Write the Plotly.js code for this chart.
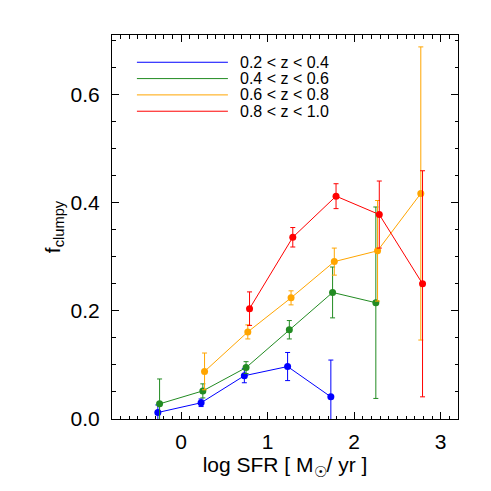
<!DOCTYPE html>
<html>
<head>
<meta charset="utf-8">
<script src="https://cdn.plot.ly/plotly-3.0.1.min.js"></script>
<style>
  html, body { margin: 0; padding: 0; background: #fff; }
  #chart { width: 491px; height: 491px; }
</style>
</head>
<body>
<div id="chart"></div>
<script>
// data: log SFR bins, clumpy fraction and its error
let labels = ["0.2 < z < 0.4", "0.4 < z < 0.6", "0.6 < z < 0.8", "0.8 < z < 1.0"];
let colors = ["#0000ff", "#228b22", "#ffa500", "#ff0000"];

let xBlue = [-0.27, 0.23, 0.73, 1.23, 1.73];
let yBlue = [0.012, 0.030, 0.080, 0.097, 0.041];
let eBlue = [0.014, 0.007, 0.013, 0.026, 0.068];

let xGreen = [-0.25, 0.25, 0.75, 1.25, 1.75, 2.25];
let yGreen = [0.028, 0.052, 0.095, 0.165, 0.234, 0.215];
let eGreen = [0.046, 0.013, 0.011, 0.017, 0.047, 0.177];

let xOrange = [0.27, 0.77, 1.27, 1.77, 2.27, 2.77];
let yOrange = [0.088, 0.161, 0.224, 0.291, 0.311, 0.417];
let eOrange = [0.034, 0.013, 0.013, 0.025, 0.093, 0.271];

let xRed = [0.79, 1.29, 1.79, 2.29, 2.79];
let yRed = [0.204, 0.336, 0.412, 0.378, 0.250];
let eRed = [0.031, 0.018, 0.023, 0.062, 0.209];

let series = [
  [xBlue, yBlue, eBlue],
  [xGreen, yGreen, eGreen],
  [xOrange, yOrange, eOrange],
  [xRed, yRed, eRed],
];

let font = { family: "Liberation Sans, Arial, sans-serif", size: 21, color: "#000" };

let data = series.map((s, i) => ({
  x: s[0],
  y: s[1],
  error_y: { type: "data", array: s[2], visible: true, color: colors[i], thickness: 1, width: 2.5 },
  mode: "lines+markers",
  name: labels[i],
  showlegend: false,
  line: { color: colors[i], width: 1 },
  marker: { color: colors[i], size: 7 },
}));

// hand drawn legend (long line samples like the original)
let shapes = [];
let annotations = [];
labels.forEach((lab, i) => {
  let yy = 0.929 - i * 0.0425;
  shapes.push({
    type: "line", xref: "paper", yref: "paper",
    x0: 0.072, x1: 0.335, y0: yy, y1: yy,
    line: { color: colors[i], width: 1 },
  });
  annotations.push({
    xref: "paper", yref: "paper", x: 0.364, y: yy,
    xanchor: "left", yanchor: "middle", showarrow: false,
    text: lab, font: { family: font.family, size: 16, color: "#000" },
  });
});

let axisCommon = {
  showgrid: false,
  zeroline: false,
  showline: true,
  linecolor: "#000",
  linewidth: 1,
  mirror: "allticks",
  ticks: "inside",
  ticklen: 7,
  tickcolor: "#000",
  tickfont: font,
};

let layout = {
  width: 491,
  height: 491,
  margin: { l: 112, r: 33, t: 35, b: 71.5 },
  paper_bgcolor: "#fff",
  plot_bgcolor: "#fff",
  font: font,
  xaxis: Object.assign({}, axisCommon, {
    range: [-0.8, 3.2],
    dtick: 1,
    tick0: 0,
    ticklabelstandoff: 4,
    minor: { dtick: 0.1, ticks: "inside", ticklen: 3.5, tickcolor: "#000" },
    title: { text: "log SFR [ M<sub>☉</sub>/ yr ]", font: font, standoff: 2 },
  }),
  yaxis: Object.assign({}, axisCommon, {
    range: [0, 0.71],
    dtick: 0.2,
    tick0: 0,
    tickformat: ".1f",
    ticklabelstandoff: 7,
    minor: { dtick: 0.05, ticks: "inside", ticklen: 3.5, tickcolor: "#000" },
    title: { text: "f<sub>clumpy</sub>", font: font, standoff: 4 },
  }),
  shapes: shapes,
  annotations: annotations,
};

Plotly.newPlot("chart", data, layout, { displayModeBar: false, staticPlot: true });
</script>
</body>
</html>
